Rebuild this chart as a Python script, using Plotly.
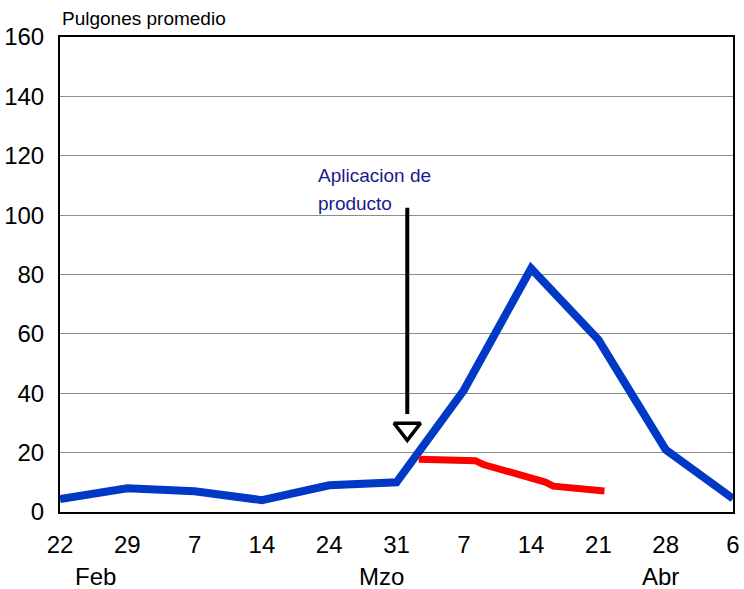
import plotly.graph_objects as go

# Sampling dates (equally spaced on the axis)
date_labels = ["22", "29", "7", "14", "24", "31", "7", "14", "21", "28", "6"]
month_labels = ["Feb", "Mzo", "Abr"]
month_pos = [0.53, 4.78, 8.93]

# Average aphids per sample, untreated plot
blue_vals = [4.4, 8, 7, 4, 9, 10, 41, 82, 58, 21, 4.5]

# Treated plot after product application (positions on the date axis)
red_pos = [5.33, 6.17, 6.29, 7.21, 7.33, 8.09]
red_vals = [17.8, 17.3, 16.0, 10.1, 8.7, 7.1]

# Product application marker
app_pos = 5.16
app_top = 102.5
app_tip = 28.0

x_idx = list(range(len(date_labels)))
FONT = "Liberation Sans, Arial, sans-serif"

fig = go.Figure()

fig.add_trace(go.Scatter(
    x=x_idx, y=blue_vals, mode="lines",
    line=dict(color="#0039c6", width=8),
    hoverinfo="skip", showlegend=False, cliponaxis=False,
))
fig.add_trace(go.Scatter(
    x=red_pos, y=red_vals, mode="lines",
    line=dict(color="#ff0000", width=7),
    hoverinfo="skip", showlegend=False,
))

# Arrow shaft
fig.add_shape(type="line", xref="x", yref="y",
              x0=app_pos, x1=app_pos, y0=app_top, y1=app_tip + 5,
              line=dict(color="black", width=4))
# Open arrow head
fig.add_trace(go.Scatter(
    x=[app_pos], y=[app_tip], mode="markers",
    marker=dict(symbol="triangle-down-open", size=23,
                line=dict(color="black", width=3.5), color="black"),
    hoverinfo="skip", showlegend=False,
))

for txt, yv in [("Aplicacion de", 113.5), ("producto", 104.0)]:
    fig.add_annotation(
        x=3.80, y=yv, xref="x", yref="y", xanchor="left", yanchor="middle",
        text=txt, showarrow=False, align="left",
        font=dict(family=FONT, size=19, color="#1a1a8c"),
    )

fig.add_annotation(
    x=0, y=1.012, xref="paper", yref="paper", xanchor="left", yanchor="bottom",
    text="Pulgones promedio", showarrow=False,
    font=dict(family=FONT, size=19, color="black"),
)

for lab, pos in zip(month_labels, month_pos):
    fig.add_annotation(
        x=pos, y=-0.135, xref="x", yref="paper", xanchor="center", yanchor="middle",
        text=lab, showarrow=False,
        font=dict(family=FONT, size=24, color="black"),
    )

fig.update_xaxes(
    range=[0, 10], tickmode="array", tickvals=x_idx, ticktext=date_labels,
    showgrid=False, zeroline=False, showline=True, linecolor="black", linewidth=2,
    mirror=True, ticks="", ticklabelstandoff=10, automargin=False,
    tickfont=dict(family=FONT, size=24, color="black"),
)
fig.update_yaxes(
    range=[0, 160], tickvals=list(range(0, 161, 20)),
    showgrid=True, gridcolor="#8c8c8c", gridwidth=1,
    zeroline=False, showline=True, linecolor="black", linewidth=2,
    mirror=True, ticks="", ticklabelstandoff=9, automargin=False,
    tickfont=dict(family=FONT, size=24, color="black"),
)

fig.update_layout(
    width=744, height=589,
    margin=dict(l=60, r=11, t=37, b=77),
    paper_bgcolor="white", plot_bgcolor="white",
    showlegend=False,
)

fig.write_html("out.html")
